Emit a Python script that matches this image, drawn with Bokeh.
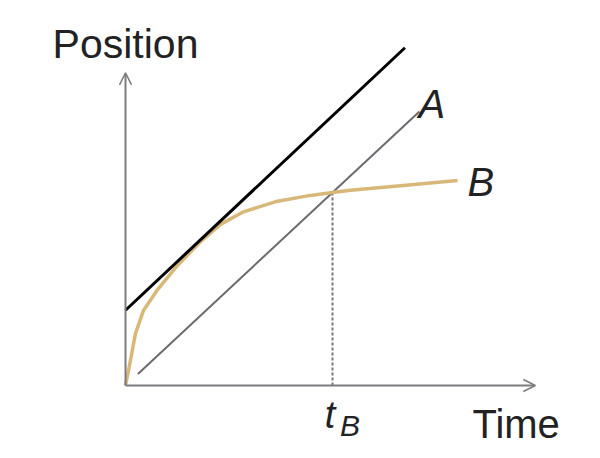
from bokeh.plotting import figure
from bokeh.models import Arrow, OpenHead, Range1d
from bokeh.core.properties import value
from bokeh.embed import file_html
from bokeh.resources import INLINE

# ---- data (time, position in units where t_B = 1 and x_B(t_B) = 1) ----
curve_b_t = [0.0, 0.024, 0.048, 0.087, 0.155, 0.251, 0.362, 0.459, 0.570, 0.734, 0.894, 1.0, 1.087, 1.329, 1.604]
curve_b_p = [0.0, 0.130, 0.269, 0.389, 0.497, 0.622, 0.745, 0.835, 0.900, 0.955, 0.985, 1.0, 1.012, 1.035, 1.062]

line_a_t = [0.06, 1.42]
line_a_p = [0.06, 1.42]

tangent_t = [0.0, 1.35]
tangent_p = [0.39, 1.75]

t_b = 1.0
x_b = 1.0

axis_time_end = 1.98
axis_pos_end = 1.62

# ---- figure ----
p = figure(width=600, height=458, output_backend="svg", toolbar_location=None,
           x_range=Range1d(-0.6039, 2.2947), y_range=Range1d(-0.3782, 1.9948),
           min_border=0)
p.axis.visible = False
p.grid.visible = False
p.outline_line_color = None
p.background_fill_color = "white"
p.border_fill_color = "white"

axis_color = "#7c7c80"

# axes as arrows
p.add_layout(Arrow(end=OpenHead(size=12, line_color=axis_color, line_width=1.5),
                   x_start=0, y_start=0, x_end=axis_time_end, y_end=0,
                   line_color=axis_color, line_width=2))
p.add_layout(Arrow(end=OpenHead(size=12, line_color=axis_color, line_width=1.5),
                   x_start=0, y_start=0, x_end=0, y_end=axis_pos_end,
                   line_color=axis_color, line_width=2))

# dashed drop line at t_B
p.line([t_b, t_b], [0, x_b], line_color="#77777a", line_width=2, line_dash="3 2")

# line A
p.line(line_a_t, line_a_p, line_color="#6a6a70", line_width=2)

# curve B
p.line(curve_b_t, curve_b_p, line_color="#d8b878", line_width=3.5, line_join="round")

# tangent line
p.line(tangent_t, tangent_p, line_color="black", line_width=3)

# labels
common = dict(text_font=value("Liberation Sans"), text_baseline="alphabetic",
              text_color="#222222")
p.text(x=[0.0], y=[1.772], text=["Position"], text_font_size=value("41px"),
       text_align="center", **common)
p.text(x=[1.676], y=[-0.197], text=["Time"], text_font_size=value("40px"),
       text_align="left", **common)
p.text(x=[1.415], y=[1.461], text=["A"], text_font_size=value("40px"),
       text_font_style="italic", text_align="left", **common)
p.text(x=[1.652], y=[1.052], text=["B"], text_font_size=value("40px"),
       text_font_style="italic", text_align="left", **common)
p.text(x=[0.962], y=[-0.155], text=["t"], text_font_size=value("38px"),
       text_font_style="italic", text_align="left", **common)
p.text(x=[1.036], y=[-0.207], text=["B"], text_font_size=value("30px"),
       text_font_style="italic", text_align="left", **common)

open("out.html", "w").write(file_html(p, INLINE))
